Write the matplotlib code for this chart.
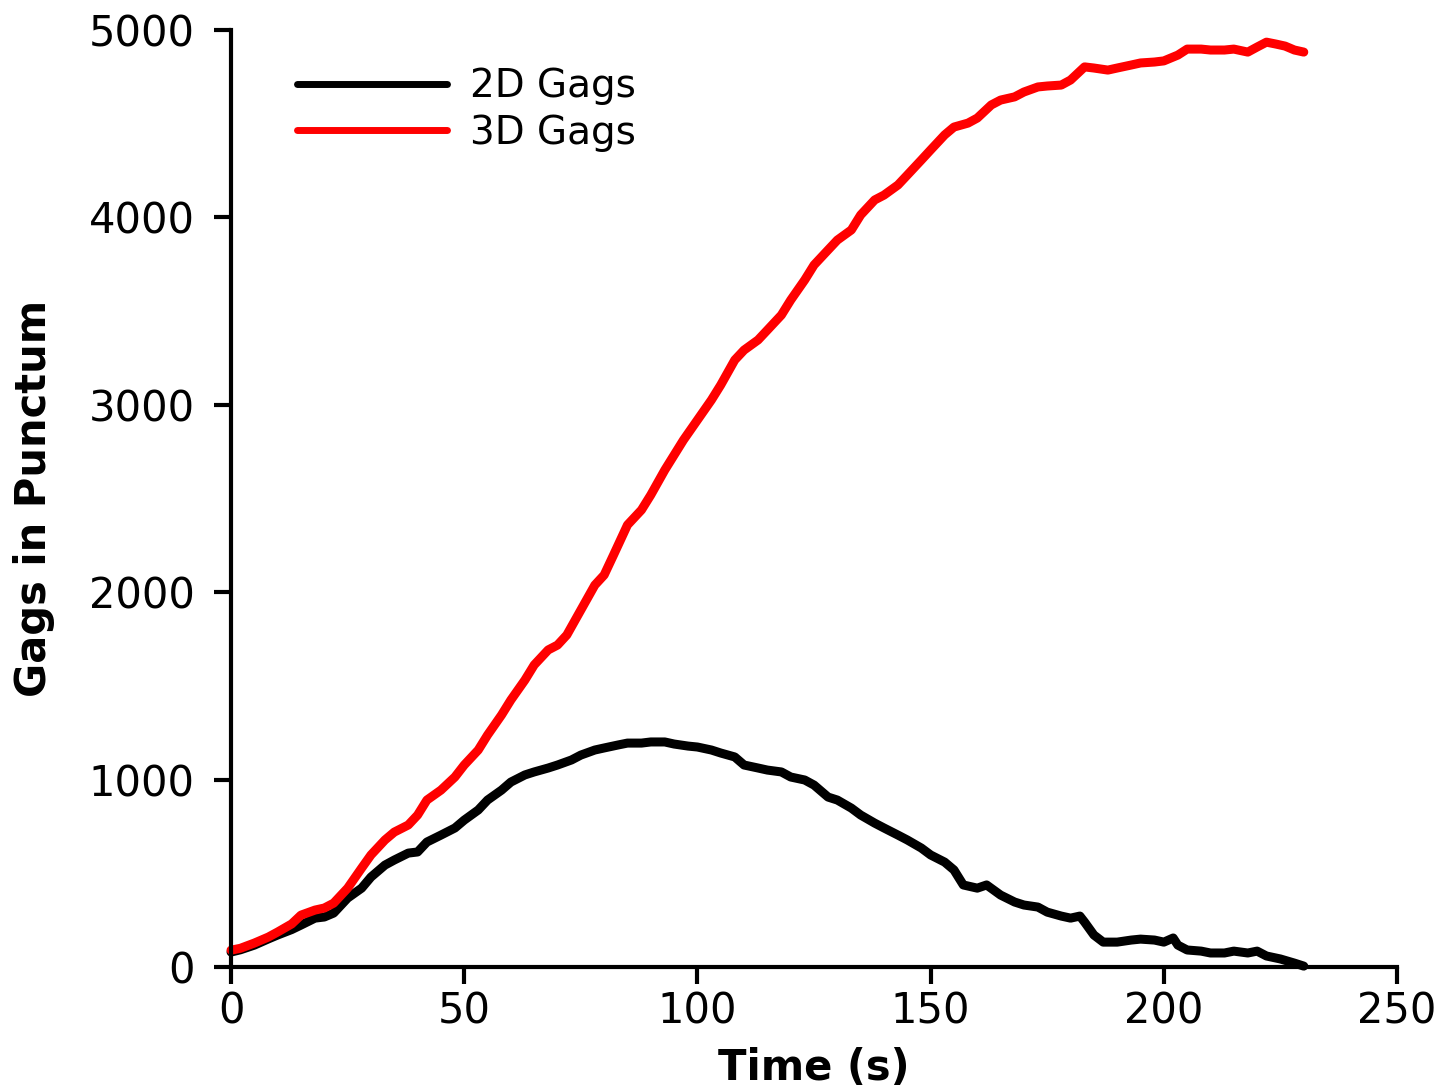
import matplotlib
matplotlib.use('Agg')
import matplotlib.pyplot as plt

# Time points (s) and gag counts
time_3d = [0, 2, 5, 8, 10, 13, 15, 18, 20, 22, 25, 28, 30, 33, 35, 38, 40, 42, 45, 48,
           50, 53, 55, 58, 60, 63, 65, 68, 70, 72, 75, 78, 80, 82, 85, 88, 90, 93, 95, 97,
           100, 103, 105, 108, 110, 113, 115, 118, 120, 123, 125, 128, 130, 133, 135, 138,
           140, 143, 145, 148, 150, 153, 155, 158, 160, 163, 165, 168, 170, 173, 175, 178,
           180, 183, 185, 188, 190, 193, 195, 198, 200, 203, 205, 208, 210, 213, 215, 218,
           220, 222, 224, 226, 228, 230]
gags_3d = [90, 100, 128, 160, 187, 230, 277, 304, 315, 341, 421, 528, 598, 678, 720, 758,
           811, 891, 944, 1014, 1078, 1158, 1238, 1345, 1425, 1531, 1612, 1692, 1718, 1772,
           1905, 2038, 2092, 2198, 2359, 2439, 2519, 2652, 2732, 2812, 2919, 3026, 3106,
           3239, 3292, 3346, 3399, 3479, 3559, 3666, 3746, 3826, 3879, 3933, 4013, 4093,
           4119, 4173, 4226, 4306, 4360, 4440, 4482, 4503, 4530, 4600, 4626, 4643, 4669,
           4696, 4701, 4706, 4733, 4803, 4797, 4786, 4797, 4813, 4824, 4829, 4835, 4866,
           4898, 4898, 4893, 4893, 4898, 4882, 4909, 4935, 4925, 4914, 4893, 4882]

time_2d = [0, 2, 5, 8, 10, 13, 15, 18, 20, 22, 25, 28, 30, 33, 35, 38, 40, 42, 45, 48,
           50, 53, 55, 58, 60, 63, 65, 68, 70, 73, 75, 78, 80, 83, 85, 88, 90, 93, 95, 98,
           100, 103, 105, 108, 110, 113, 115, 118, 120, 123, 125, 128, 130, 133, 135, 138,
           140, 143, 145, 148, 150, 153, 155, 157, 160, 162, 165, 168, 170, 173, 175, 178,
           180, 182, 183, 185, 187, 190, 193, 195, 198, 200, 202, 203, 205, 208, 210, 213,
           215, 218, 220, 222, 225, 228, 230]
gags_2d = [80, 92, 117, 150, 171, 200, 224, 261, 267, 288, 368, 421, 480, 544, 571, 608,
           614, 667, 704, 742, 784, 838, 891, 944, 987, 1025, 1041, 1062, 1078, 1105, 1131,
           1158, 1169, 1185, 1195, 1195, 1201, 1201, 1190, 1179, 1174, 1158, 1142, 1121,
           1078, 1062, 1051, 1041, 1014, 998, 971, 907, 891, 848, 811, 768, 742, 704, 678,
           635, 598, 560, 518, 438, 421, 438, 384, 347, 331, 320, 293, 272, 261, 272, 240,
           171, 133, 133, 144, 149, 144, 133, 155, 117, 91, 85, 75, 75, 85, 75, 85, 59, 43,
           21, 5]

fig = plt.figure(figsize=(14.53, 10.9), dpi=100)
ax = fig.add_axes([0.159, 0.1128, 0.8025, 0.8597])

ax.plot(time_2d, gags_2d, color='black', lw=6.5, label='2D Gags', clip_on=False,
        solid_capstyle='round', solid_joinstyle='round')
ax.plot(time_3d, gags_3d, color='red', lw=6.5, label='3D Gags', clip_on=False,
        solid_capstyle='round', solid_joinstyle='round')

ax.set_xlim(0, 250)
ax.set_ylim(0, 5000)
ax.set_xticks([0, 50, 100, 150, 200, 250])
ax.set_yticks([0, 1000, 2000, 3000, 4000, 5000])
for side in ['top', 'right']:
    ax.spines[side].set_visible(False)
for side in ['left', 'bottom']:
    ax.spines[side].set_linewidth(3)
ax.tick_params(width=3, length=12, labelsize=30)
ax.tick_params(axis='y', pad=14)
ax.tick_params(axis='x', pad=5)

ax.set_xlabel('Time (s)', fontsize=30, fontweight='bold', labelpad=10)
ax.set_ylabel('Gags in Punctum', fontsize=30, fontweight='bold', labelpad=24)

leg = ax.legend(loc='upper left', bbox_to_anchor=(0.0566, 0.96), fontsize=28,
                frameon=False, handlelength=3.85, handletextpad=0.6,
                labelspacing=0.22, borderpad=0, borderaxespad=0)
for line in leg.get_lines():
    line.set_linewidth(5)

fig.savefig('out.png', dpi=100)
